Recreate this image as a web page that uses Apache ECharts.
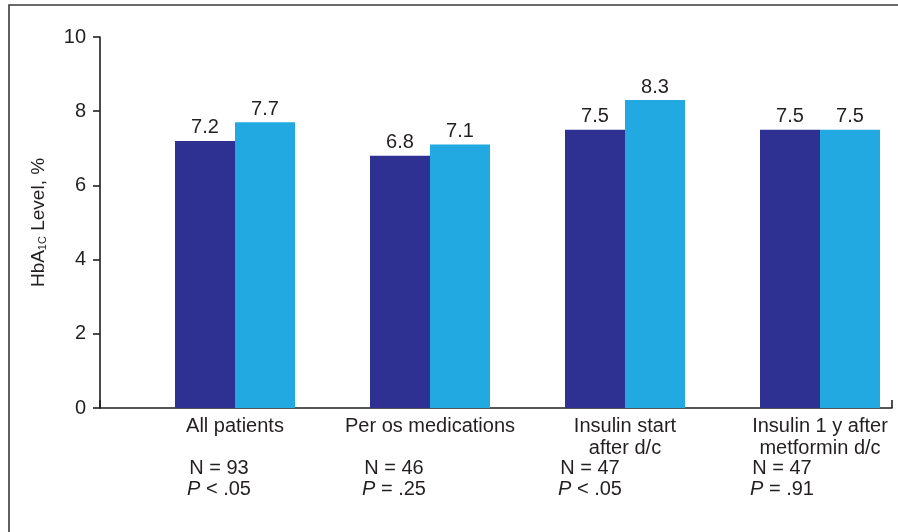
<!DOCTYPE html>
<html>
<head>
<meta charset="utf-8">
<script src="https://cdn.jsdelivr.net/npm/echarts@6/dist/echarts.min.js"></script>
<style>html,body{margin:0;padding:0;background:#fff;}#c{width:898px;height:532px;}</style>
</head>
<body>
<div id="c"></div>
<script>
const categories = ['All patients', 'Per os medications', 'Insulin start\nafter d/c', 'Insulin 1 y after\nmetformin d/c'];
const seriesA = [7.2, 6.8, 7.5, 7.5];
const seriesB = [7.7, 7.1, 8.3, 7.5];
const nValues = ['N = 93', 'N = 46', 'N = 47', 'N = 47'];
const pValues = ['< .05', '= .25', '< .05', '= .91'];
const yTicks = [0, 2, 4, 6, 8, 10];

const FONT = 'Liberation Sans, Arial, Helvetica, sans-serif';
const TXT = '#231F20';
const FS = 20;

const chart = echarts.init(document.getElementById('c'));
const statShift = [32, 72, 70, 76];
chart.setOption({
  backgroundColor: '#fff',
  animation: false,
  textStyle: { fontFamily: FONT },
  graphic: [{
    type: 'rect', silent: true, z: -1,
    shape: { x: 9, y: 5, width: 1000, height: 1000 },
    style: { fill: 'none', stroke: '#3a3a3a', lineWidth: 1.6 }
  }],
  grid: [
    { left: 235, top: 37, width: 585, height: 371 },
    { left: 100, top: 37, width: 792, height: 371 }
  ],
  xAxis: [
    {
      type: 'category', gridIndex: 0, data: categories, boundaryGap: false,
      axisLine: { show: false }, axisTick: { show: false },
      axisLabel: { fontSize: FS, color: TXT, lineHeight: 22, margin: 7, interval: 0, fontFamily: FONT }
    },
    {
      type: 'value', gridIndex: 1, min: 0, max: 1, interval: 1,
      axisLine: { show: true, lineStyle: { color: TXT, width: 1.6 } },
      axisTick: { show: true, inside: true, length: 8, lineStyle: { color: TXT, width: 1.6 } },
      axisLabel: { show: false }, splitLine: { show: false }
    },
    {
      type: 'category', gridIndex: 0, position: 'bottom', boundaryGap: false,
      data: categories.map((c, i) => ({ value: c, textStyle: { padding: [0, statShift[i], 0, 0] } })),
      axisLine: { show: false }, axisTick: { show: false },
      axisLabel: {
        interval: 0, margin: 50, color: TXT, fontSize: FS, lineHeight: 21,
        formatter: (v, i) => '{n|' + nValues[i] + '}\n{p|P}{n| ' + pValues[i] + '}',
        rich: {
          n: { fontSize: FS, color: TXT, fontFamily: FONT, lineHeight: 21 },
          p: { fontSize: FS, color: TXT, fontFamily: FONT, fontStyle: 'italic', lineHeight: 21 }
        }
      }
    }
  ],
  yAxis: [
    { type: 'value', gridIndex: 0, min: 0, max: 10, interval: 2, show: false },
    {
      type: 'value', gridIndex: 1, min: yTicks[0], max: yTicks[yTicks.length - 1], interval: 2,
      axisLine: { show: true, lineStyle: { color: TXT, width: 1.6 } },
      axisTick: { show: true, length: 7, lineStyle: { color: TXT, width: 1.6 } },
      axisLabel: { fontSize: FS, color: TXT, margin: 14, fontFamily: FONT },
      splitLine: { show: false },
      name: '{a|HbA}{s|1C}{a| Level, %}',
      nameLocation: 'middle', nameRotate: 90, nameGap: 52,
      nameTextStyle: {
        rich: {
          a: { fontSize: 19, color: TXT, fontFamily: FONT },
          s: { fontSize: 11, color: TXT, fontFamily: FONT, padding: [8, 0, 0, 0] }
        }
      }
    }
  ],
  series: [
    {
      type: 'bar', xAxisIndex: 0, yAxisIndex: 0, data: seriesA, barWidth: 60, barGap: '0%',
      itemStyle: { color: '#2E3192' },
      label: { show: true, position: 'top', distance: 3, fontSize: FS, color: TXT, fontFamily: FONT }
    },
    {
      type: 'bar', xAxisIndex: 0, yAxisIndex: 0, data: seriesB, barWidth: 60, barGap: '0%',
      itemStyle: { color: '#23A9E1' },
      label: { show: true, position: 'top', distance: 3, fontSize: FS, color: TXT, fontFamily: FONT }
    }
  ]
});
</script>
</body>
</html>
